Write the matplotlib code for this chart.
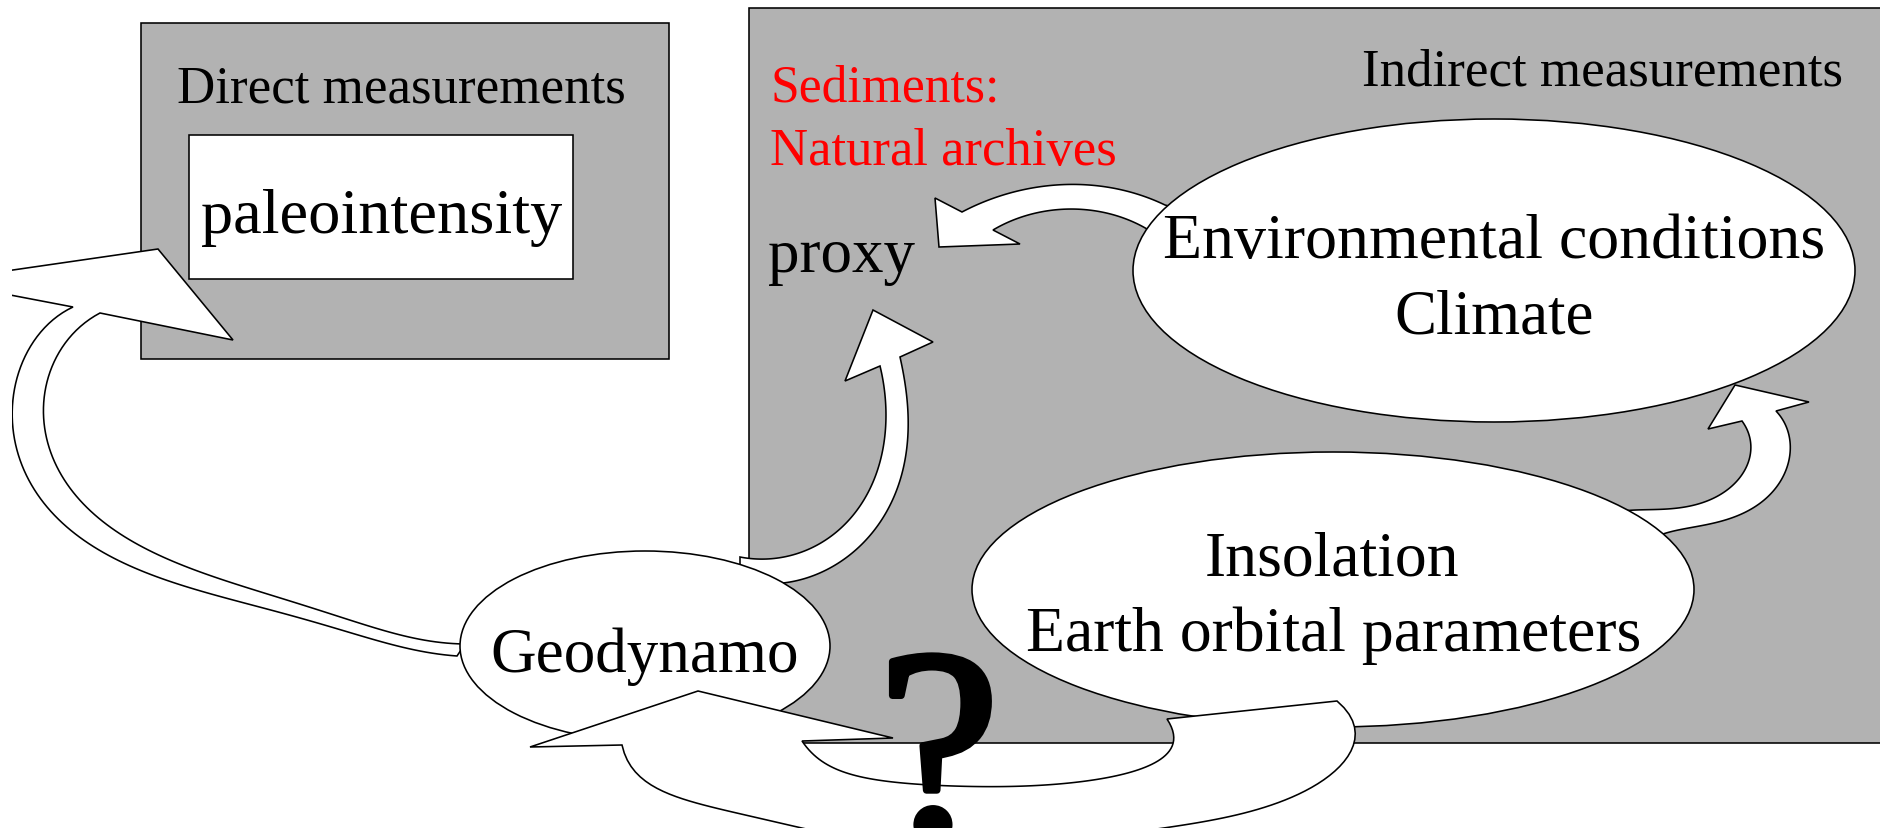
import matplotlib
matplotlib.use("Agg")
import matplotlib.pyplot as plt
import matplotlib.patheffects as pe
from matplotlib.path import Path
from matplotlib.patches import PathPatch, Rectangle, Ellipse
import numpy as np

# ---------------- content ----------------
label_direct = "Direct measurements"
label_paleo = "paleointensity"
label_indirect = "Indirect measurements"
label_sed = ["Sediments:", "Natural archives"]
label_proxy = "proxy"
label_env = ["Environmental conditions", "Climate"]
label_insol = ["Insolation", "Earth orbital parameters"]
label_geo = "Geodynamo"
label_q = "?"

# ---------------- geometry (pixel space of the 1880x829 canvas, y down) ----------------
W, H = 1880, 829
box_direct = (141, 24, 669, 360)
box_paleo = (189, 136, 573, 280)
box_indirect = (749, 9, 1895, 744)

ell_env = (1494, 271.5, 722, 303)
ell_insol = (1333, 590.5, 722, 275)
ell_geo = (645, 647, 370, 190)

# arrow outlines: ('S', points of a smooth edge, degree) / ('L', straight points)
arrow_paleo = [
    ('S', [(457, 657), (367, 637), (283, 617), (200, 590), (133, 567), (83, 540),
           (43, 503), (20, 463), (12, 417), (17, 385), (30, 355), (50, 330), (73, 308)], 5),
    ('L', [(73, 308), (-63, 282), (158, 250), (233, 341), (100, 314)]),
    ('S', [(100, 314), (67, 353), (47, 387), (43, 417), (50, 457), (77, 497),
           (117, 530), (167, 557), (233, 583), (317, 613), (400, 633), (465, 645)], 5),
    ('L', [(465, 645), (457, 657)]),
]
arrow_proxy_up = [
    ('S', [(740, 558), (767, 559), (800, 553), (833, 537), (857, 513), (873, 480),
           (883, 447), (887, 413), (885, 387), (880, 367)], 4),
    ('L', [(880, 367), (845, 382), (873, 311), (933, 343), (900, 358)]),
    ('S', [(900, 358), (905, 380), (908, 413), (907, 447), (900, 480), (887, 513),
           (867, 540), (840, 563), (810, 577), (783, 584)], 4),
    ('L', [(783, 584), (790, 600), (740, 600), (740, 558)]),
]
arrow_proxy_left = [
    ('S', [(962, 213), (983, 203), (1017, 193), (1067, 185), (1100, 187),
           (1133, 195), (1165, 206)], 3),
    ('L', [(1165, 206), (1200, 215), (1190, 245), (1147, 230)]),
    ('S', [(1147, 230), (1117, 217), (1083, 210), (1050, 212), (1017, 219), (993, 231)], 3),
    ('L', [(993, 231), (1020, 245), (939, 248), (935, 199), (962, 213)]),
]
arrow_env = [
    ('S', [(1776, 412), (1787, 433), (1790, 450), (1787, 470), (1770, 497),
           (1743, 513), (1717, 523), (1690, 530), (1663, 535)], 4),
    ('L', [(1663, 535), (1640, 560), (1610, 540), (1623, 512)]),
    ('S', [(1623, 512), (1650, 512), (1683, 507), (1717, 497), (1737, 483),
           (1747, 467), (1750, 450), (1747, 433), (1742, 422)], 4),
    ('L', [(1742, 422), (1708, 430), (1735, 386), (1809, 403), (1776, 412)]),
]
arrow_geo = [
    ('S', [(622, 746), (627, 757), (637, 773), (663, 790), (697, 803), (730, 813),
           (773, 822), (817, 828), (987, 848), (1157, 828), (1207, 820), (1240, 813),
           (1280, 800), (1307, 790), (1333, 773), (1347, 757), (1355, 743),
           (1357, 730), (1350, 717), (1337, 702)], 7),
    ('L', [(1337, 702), (1167, 720)]),
    ('S', [(1167, 720), (1177, 737), (1170, 753), (1140, 770), (1107, 778),
           (1073, 783), (1007, 787), (940, 788), (897, 783), (863, 778),
           (830, 768), (810, 757), (802, 742)], 6),
    ('L', [(802, 742), (893, 739), (698, 692), (530, 748), (622, 746)]),
]

GRAY = "#b2b2b2"
LW = 1.15
FONT = "Liberation Serif"

fig = plt.figure(figsize=(W / 100, H / 100), dpi=100)
ax = fig.add_axes([0, 0, 1, 1])
ax.set_xlim(0, W)
ax.set_ylim(H, 0)
ax.axis("off")


def smooth(pts, deg, n=120):
    P = np.asarray(pts, float)
    d = np.r_[0, np.cumsum(np.hypot(*np.diff(P, axis=0).T))]
    t = d / d[-1]
    deg = min(deg, len(P) - 1)
    cx = np.polyfit(t, P[:, 0], deg)
    cy = np.polyfit(t, P[:, 1], deg)
    tt = np.linspace(0, 1, n)
    X = np.polyval(cx, tt)
    Y = np.polyval(cy, tt)
    X += (P[0, 0] - X[0]) * (1 - tt) + (P[-1, 0] - X[-1]) * tt
    Y += (P[0, 1] - Y[0]) * (1 - tt) + (P[-1, 1] - Y[-1]) * tt
    return list(zip(X, Y))


def outline(segments):
    verts = []
    for seg in segments:
        pts = smooth(seg[1], seg[2]) if seg[0] == 'S' else list(seg[1])
        verts += pts if not verts else pts[1:]
    codes = [Path.MOVETO] + [Path.LINETO] * (len(verts) - 1) + [Path.CLOSEPOLY]
    return Path(verts + [verts[0]], codes)


def rect(b, fc, z):
    x0, y0, x1, y1 = b
    ax.add_patch(Rectangle((x0, y0), x1 - x0, y1 - y0, facecolor=fc,
                           edgecolor="black", lw=LW, zorder=z))


def ell(e, z):
    cx, cy, w, h = e
    ax.add_patch(Ellipse((cx, cy), w, h, facecolor="white", edgecolor="black",
                         lw=LW, zorder=z))


def arrow(segs, z, clip=None):
    p = PathPatch(outline(segs), facecolor="white", edgecolor="black",
                  lw=LW, joinstyle="miter", zorder=z)
    ax.add_patch(p)
    if clip is not None:
        p.set_clip_path(clip)
    return p


rect(box_direct, GRAY, 1)
rect(box_paleo, "white", 1.1)
rect(box_indirect, GRAY, 1)

# the big left arrow is cut by the picture's left border in the original
clip_left = Rectangle((12, -50), W + 100, H + 100, transform=ax.transData)
arrow(arrow_paleo, 2, clip=clip_left)
for a in (arrow_proxy_up, arrow_proxy_left, arrow_env):
    arrow(a, 2)

ell(ell_env, 3)
ell(ell_insol, 3)
ell(ell_geo, 3)

arrow(arrow_geo, 4)

renderer = fig.canvas.get_renderer()


def fit_text(s, x0, x1, base, color="black"):
    t = ax.text(x0, base, s, fontsize=40, family=FONT, color=color,
                ha="left", va="baseline", zorder=6)
    w = t.get_window_extent(renderer).width
    t.set_fontsize(40 * (x1 - x0) / w)
    bb = t.get_window_extent(renderer)
    t.set_x(x0 - (bb.x0 - x0))
    return t


fit_text(label_direct, 177, 625, 102)
fit_text(label_paleo, 201, 561, 233)
fit_text(label_indirect, 1362, 1842, 85)
fit_text(label_sed[0], 771, 1000, 101, color="red")
fit_text(label_sed[1], 770, 1117, 165, color="red")
fit_text(label_proxy, 768, 915, 272)
fit_text(label_env[0], 1163, 1824, 258)
fit_text(label_env[1], 1394, 1593, 333)
fit_text(label_insol[0], 1205, 1460, 575)
fit_text(label_insol[1], 1026, 1641, 651)
fit_text(label_geo, 490, 798, 672)

ax.text(939, 838, label_q, fontsize=197, family=FONT, color="black",
        ha="center", va="baseline", zorder=7,
        path_effects=[pe.withStroke(linewidth=5, foreground="black")])

fig.savefig("out.png", dpi=100)
